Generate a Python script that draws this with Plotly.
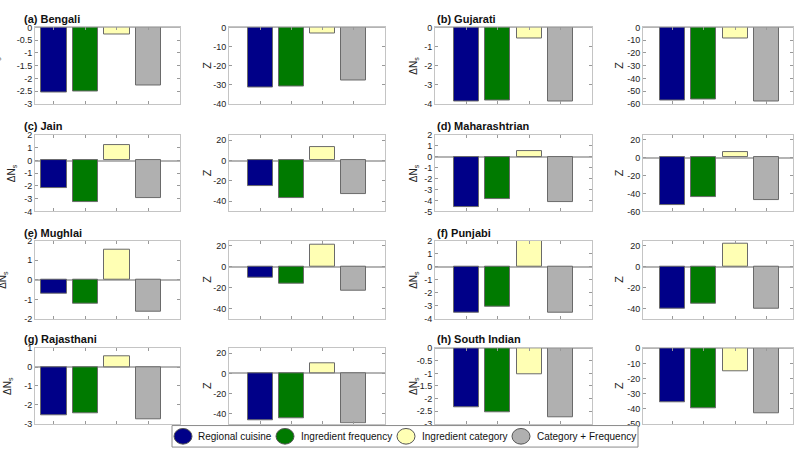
import math
import plotly.graph_objects as go

# ---------------- data ----------------
methods = ["Regional cuisine", "Ingredient frequency", "Ingredient category", "Category + Frequency"]
colors = ["#000088", "#007a00", "#ffffb4", "#b0b0b0"]

cuisines = ["(a) Bengali", "(b) Gujarati", "(c) Jain", "(d) Maharashtrian",
            "(e) Mughlai", "(f) Punjabi", "(g) Rajasthani", "(h) South Indian"]

bengali_dns = [-2.57, -2.52, -0.29, -2.28]
bengali_z = [-31.7, -30.9, -3.4, -27.8]
gujarati_dns = [-3.89, -3.81, -0.58, -3.9]
gujarati_z = [-57.5, -56.4, -8.8, -58.0]
jain_dns = [-2.17, -3.26, 1.19, -2.95]
jain_z = [-24.7, -37.2, 13.1, -33.3]
maharashtrian_dns = [-4.6, -3.85, 0.55, -4.15]
maharashtrian_z = [-52.5, -44.2, 6.5, -47.5]
mughlai_dns = [-0.73, -1.2, 1.55, -1.62]
mughlai_z = [-10.2, -16.5, 21.0, -22.5]
punjabi_dns = [-3.49, -3.07, 2.0, -3.52]
punjabi_z = [-40.3, -35.5, 22.2, -40.3]
rajasthani_dns = [-2.55, -2.45, 0.55, -2.75]
rajasthani_z = [-47.0, -45.0, 10.5, -50.0]
southindian_dns = [-2.35, -2.55, -1.05, -2.75]
southindian_z = [-36.0, -40.0, -15.0, -43.0]

dns_values = [bengali_dns, gujarati_dns, jain_dns, maharashtrian_dns,
              mughlai_dns, punjabi_dns, rajasthani_dns, southindian_dns]
z_values = [bengali_z, gujarati_z, jain_z, maharashtrian_z,
            mughlai_z, punjabi_z, rajasthani_z, southindian_z]

# axis ranges / tick steps (style)
dns_axes = [([-3, 0], 0.5), ([-4, 0], 1), ([-4, 2], 1), ([-5, 2], 1),
            ([-2, 2], 1), ([-4, 2], 1), ([-3, 1], 1), ([-3, 0], 0.5)]
z_axes = [([-40, 0], 10), ([-60, 0], 10), ([-50, 25], 20), ([-60, 25], 20),
          ([-50, 25], 20), ([-50, 25], 20), ([-50, 25], 20), ([-50, 0], 10)]

# ---------------- layout geometry (pixels) ----------------
W, H = 801, 455
col_px = [(35, 180), (229, 385), (435, 592), (643, 793)]
col_xrange = [[0.4, 5.0], [0, 5], [0, 5], [0.05, 4.85]]
row_px = [(23, 101), (133, 211), (241, 321), (351, 428)]
title_y = [14, 124, 233, 342]
title_x = [23, 436]
dns_label_x = [[-4, 12, 3, 8], [414, 414, 414, 414]]
z_label_x = [207, 619]

legend_box = (172, 430, 638, 452)
legend_marker_x = [183, 285, 406, 521]
legend_text_x = [196, 299, 420, 535]

FONT = "Liberation Sans, Arial, sans-serif"


def ticks(rng, step):
    lo, hi = rng
    vals = []
    k = math.ceil(lo / step - 1e-9)
    while k * step <= hi + 1e-9:
        vals.append(round(k * step, 6))
        k += 1
    return vals, ["%g" % v for v in vals]


fig = go.Figure()
annotations = []
shapes = []
layout_axes = {}
x = [1, 2, 3, 4]

idx = 0
for ci, name in enumerate(cuisines):
    r = ci // 2
    pair = ci % 2
    for kind in range(2):
        col = pair * 2 + kind
        idx += 1
        xa = "x" if idx == 1 else "x%d" % idx
        ya = "y" if idx == 1 else "y%d" % idx
        vals = dns_values[ci] if kind == 0 else z_values[ci]
        rng, step = (dns_axes[ci] if kind == 0 else z_axes[ci])
        fig.add_trace(go.Bar(
            x=x, y=vals, xaxis=xa, yaxis=ya, width=0.8,
            marker=dict(color=colors, line=dict(color="#6a6a6a", width=1)),
            showlegend=False, hoverinfo="y"))
        x0, x1 = col_px[col]
        t, b = row_px[r]
        tv, tt = ticks(rng, step)
        layout_axes["xaxis" if idx == 1 else "xaxis%d" % idx] = dict(
            domain=[x0 / W, x1 / W], anchor=ya, range=col_xrange[col],
            tickvals=x, showticklabels=False, ticks="inside", ticklen=3,
            tickcolor="#999", showline=True, linecolor="#c4c4c4", linewidth=1,
            mirror="ticks", showgrid=False, zeroline=False, fixedrange=True)
        layout_axes["yaxis" if idx == 1 else "yaxis%d" % idx] = dict(
            domain=[1 - b / H, 1 - t / H], anchor=xa, range=rng,
            tickvals=tv, ticktext=tt, ticks="inside", ticklen=3,
            tickcolor="#999", showline=True, linecolor="#c4c4c4", linewidth=1,
            mirror="ticks", showgrid=False, zeroline=True,
            zerolinecolor="#b4b4b4", zerolinewidth=1.5,
            tickfont=dict(family=FONT, size=9, color="#222"), fixedrange=True)
        ymid = 1 - (t + b) / 2 / H
        if kind == 0:
            annotations.append(dict(
                text="ΔN<sub>s</sub>", x=dns_label_x[pair][r] / W, y=ymid,
                xref="paper", yref="paper", xanchor="center", yanchor="middle",
                textangle=-90, showarrow=False,
                font=dict(family=FONT, size=10, color="#222")))
        else:
            annotations.append(dict(
                text="Z", x=z_label_x[pair] / W, y=ymid,
                xref="paper", yref="paper", xanchor="center", yanchor="middle",
                textangle=-90, showarrow=False,
                font=dict(family=FONT, size=11, color="#222")))
    annotations.append(dict(
        text="<b>%s</b>" % name, x=title_x[pair] / W, y=1 - title_y[r] / H,
        xref="paper", yref="paper", xanchor="left", yanchor="middle",
        showarrow=False, borderpad=0,
        font=dict(family=FONT, size=11, color="#111")))

# ---------------- legend (drawn as a key box) ----------------
lx0, ly0, lx1, ly1 = legend_box
shapes.append(dict(type="rect", xref="paper", yref="paper",
                   x0=lx0 / W, x1=lx1 / W, y0=1 - ly1 / H, y1=1 - ly0 / H,
                   line=dict(color="#8a8a8a", width=1), fillcolor="white",
                   layer="above"))
ymid_leg = (ly0 + ly1) / 2
for m, c, mx, tx in zip(methods, colors, legend_marker_x, legend_text_x):
    shapes.append(dict(type="circle", xref="paper", yref="paper",
                       x0=(mx - 9) / W, x1=(mx + 9) / W,
                       y0=1 - (ymid_leg + 8) / H, y1=1 - (ymid_leg - 8) / H,
                       fillcolor=c, line=dict(color="#555", width=1),
                       layer="above"))
    annotations.append(dict(
        text=m, x=tx / W, y=1 - ymid_leg / H, xref="paper", yref="paper",
        xanchor="left", yanchor="middle", showarrow=False,
        font=dict(family=FONT, size=10, color="#111")))

fig.update_layout(
    width=W, height=H, margin=dict(l=0, r=0, t=0, b=0),
    paper_bgcolor="white", plot_bgcolor="white",
    annotations=annotations, shapes=shapes, bargap=0, showlegend=False,
    **layout_axes)

fig.write_html("out.html")
